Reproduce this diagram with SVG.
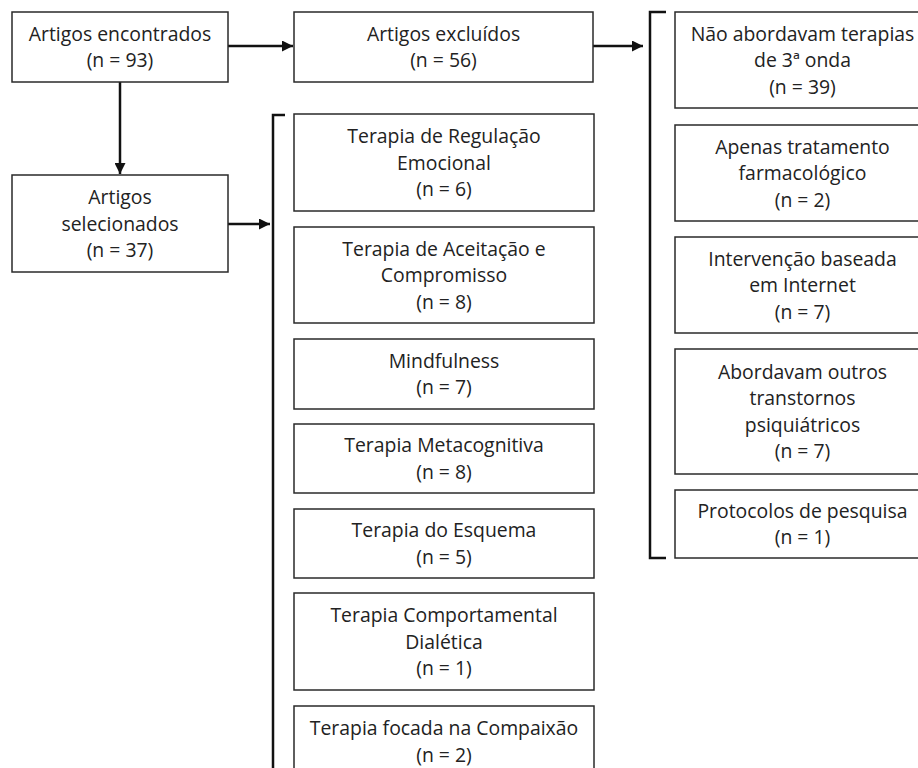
<svg xmlns="http://www.w3.org/2000/svg" width="918" height="768" viewBox="0 0 918 768">
<style>
  .box { fill: #ffffff; stroke: #2a2a2a; stroke-width: 1.5; }
  .lbl { font-family: "Open Sans", "Liberation Sans", sans-serif; font-size: 19.4px; fill: #222222; text-anchor: middle; }
  .conn { fill: none; stroke: #111111; stroke-width: 2.5; }
</style>
<defs>
  <marker id="ah" viewBox="0 0 10 10" refX="10" refY="5" markerWidth="4.4" markerHeight="4.4" orient="auto" markerUnits="strokeWidth">
    <path d="M0,0 L10,5 L0,10 Z" fill="#111111"/>
  </marker>
</defs>
<rect width="918" height="768" fill="#ffffff"/>

<g id="connectors">
  <line class="conn" x1="228" y1="46" x2="293" y2="46" marker-end="url(#ah)"/>
  <line class="conn" x1="120" y1="82" x2="120" y2="174" marker-end="url(#ah)"/>
  <line class="conn" x1="228" y1="224" x2="270" y2="224" marker-end="url(#ah)"/>
  <line class="conn" x1="593" y1="46" x2="643" y2="46" marker-end="url(#ah)"/>
  <path class="conn" d="M285,115 H273 V780"/>
  <path class="conn" d="M666,12 H650 V558 H666"/>
</g>

<g id="n-encontrados">
  <rect class="box" x="12" y="12" width="216" height="70"/>
  <text class="lbl" x="120" y="40.5">Artigos encontrados</text>
  <text class="lbl" x="120" y="67">(n = 93)</text>
</g>
<g id="n-selecionados">
  <rect class="box" x="12" y="175" width="216" height="97"/>
  <text class="lbl" x="120" y="204">Artigos</text>
  <text class="lbl" x="120" y="230.5">selecionados</text>
  <text class="lbl" x="120" y="257">(n = 37)</text>
</g>
<g id="n-excluidos">
  <rect class="box" x="294" y="12" width="299" height="70"/>
  <text class="lbl" x="443.5" y="40.5">Artigos excluídos</text>
  <text class="lbl" x="443.5" y="67">(n = 56)</text>
</g>

<g id="m-regulacao">
  <rect class="box" x="294" y="114" width="300" height="97"/>
  <text class="lbl" x="444" y="143">Terapia de Regulação</text>
  <text class="lbl" x="444" y="169.5">Emocional</text>
  <text class="lbl" x="444" y="196">(n = 6)</text>
</g>
<g id="m-aceitacao">
  <rect class="box" x="294" y="227" width="300" height="96"/>
  <text class="lbl" x="444" y="255.5">Terapia de Aceitação e</text>
  <text class="lbl" x="444" y="282">Compromisso</text>
  <text class="lbl" x="444" y="308.5">(n = 8)</text>
</g>
<g id="m-mindfulness">
  <rect class="box" x="294" y="339" width="300" height="70"/>
  <text class="lbl" x="444" y="367.5">Mindfulness</text>
  <text class="lbl" x="444" y="394">(n = 7)</text>
</g>
<g id="m-metacognitiva">
  <rect class="box" x="294" y="424" width="300" height="69"/>
  <text class="lbl" x="444" y="452">Terapia Metacognitiva</text>
  <text class="lbl" x="444" y="478.5">(n = 8)</text>
</g>
<g id="m-esquema">
  <rect class="box" x="294" y="509" width="300" height="69"/>
  <text class="lbl" x="444" y="537">Terapia do Esquema</text>
  <text class="lbl" x="444" y="563.5">(n = 5)</text>
</g>
<g id="m-dialetica">
  <rect class="box" x="294" y="593" width="300" height="97"/>
  <text class="lbl" x="444" y="622">Terapia Comportamental</text>
  <text class="lbl" x="444" y="648.5">Dialética</text>
  <text class="lbl" x="444" y="675">(n = 1)</text>
</g>
<g id="m-compaixao">
  <rect class="box" x="294" y="706" width="300" height="71"/>
  <text class="lbl" x="444" y="735">Terapia focada na Compaixão</text>
  <text class="lbl" x="444" y="761.5">(n = 2)</text>
</g>

<g id="r-terceira-onda">
  <rect class="box" x="675" y="12" width="255" height="96"/>
  <text class="lbl" x="802.5" y="40.5">Não abordavam terapias</text>
  <text class="lbl" x="802.5" y="67">de 3ª onda</text>
  <text class="lbl" x="802.5" y="93.5">(n = 39)</text>
</g>
<g id="r-farmacologico">
  <rect class="box" x="675" y="125" width="255" height="96"/>
  <text class="lbl" x="802.5" y="153.5">Apenas tratamento</text>
  <text class="lbl" x="802.5" y="180">farmacológico</text>
  <text class="lbl" x="802.5" y="206.5">(n = 2)</text>
</g>
<g id="r-internet">
  <rect class="box" x="675" y="237" width="255" height="96"/>
  <text class="lbl" x="802.5" y="265.5">Intervenção baseada</text>
  <text class="lbl" x="802.5" y="292">em Internet</text>
  <text class="lbl" x="802.5" y="318.5">(n = 7)</text>
</g>
<g id="r-outros">
  <rect class="box" x="675" y="349" width="255" height="125"/>
  <text class="lbl" x="802.5" y="378.5">Abordavam outros</text>
  <text class="lbl" x="802.5" y="405">transtornos</text>
  <text class="lbl" x="802.5" y="431.5">psiquiátricos</text>
  <text class="lbl" x="802.5" y="458">(n = 7)</text>
</g>
<g id="r-protocolos">
  <rect class="box" x="675" y="490" width="255" height="68"/>
  <text class="lbl" x="802.5" y="517.5">Protocolos de pesquisa</text>
  <text class="lbl" x="802.5" y="544">(n = 1)</text>
</g>
</svg>
